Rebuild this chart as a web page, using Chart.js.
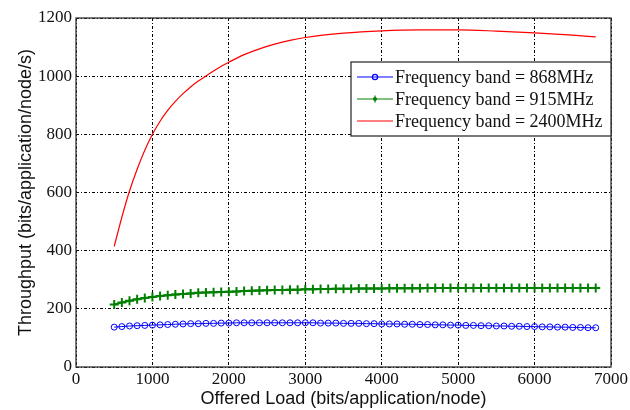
<!DOCTYPE html>
<html>
<head>
<meta charset="utf-8">
<script src="https://cdn.jsdelivr.net/npm/chart.js@4"></script>
<style>
  html, body { margin: 0; padding: 0; background: #fff; }
  #wrap { width: 630px; height: 410px; }
</style>
</head>
<body>
<div id="wrap"><canvas id="grafica"></canvas></div>
<script>
// ——— Datos ——————————————————————————————————————
const loadStep = [500,600,700,800,900,1000,1100,1200,1300,1400,1500,1600,1700,1800,1900,
  2000,2100,2200,2300,2400,2500,2600,2700,2800,2900,3000,3100,3200,3300,3400,3500,3600,3700,3800,3900,
  4000,4100,4200,4300,4400,4500,4600,4700,4800,4900,5000,5100,5200,5300,5400,5500,5600,5700,5800,5900,
  6000,6100,6200,6300,6400,6500,6600,6700,6800];

const band868 = [137,139,141,142,143,
  144,145,146,147,148,149,149,150,150,151,
  151,152,152,152,152,152,152,152,152,152,
  152,152,151,151,151,150,150,150,149,149,
  148,148,148,147,147,146,146,145,145,144,
  144,143,143,142,142,141,141,140,140,139,
  139,138,138,137,137,136,136,135,135];

const band915 = [215,222,228,233,237,
  241,244,247,249,251,253,255,256,257,258,
  259,260,261,262,263,264,265,265,266,266,
  267,267,268,268,269,269,269,270,270,270,
  270,271,271,271,271,271,272,272,272,272,
  272,272,272,272,272,272,272,272,272,272,
  272,272,272,272,272,272,272,272,272];

const loadRed = [500,600,700,800,900,1000,1100,1200,1300,1400,1500,1600,1700,1800,1900,
  2000,2200,2400,2600,2800,3000,3500,4000,4500,5000,5500,6000,6500,6800];
const band2400 = [415,515,605,680,745,800,845,882,913,940,963,983,1001,1018,1034,
  1048,1074,1094,1110,1123,1133,1148,1156,1159,1159,1155,1149,1141,1135];

const etiquetas = ["Frequency band = 868MHz", "Frequency band = 915MHz", "Frequency band = 2400MHz"];
const xTicks = [0,1000,2000,3000,4000,5000,6000,7000];
const yTicks = [0,200,400,600,800,1000,1200];

const SERIF = "'Liberation Serif', 'DejaVu Serif', serif";
const SANS = "'Liberation Sans', Arial, sans-serif";

// ——— Helpers ——————————————————————————————————————
function pares(xs, ys) {
  return xs.map((x, i) => ({ x: x, y: ys[i] }));
}

// marco + leyenda estilo MATLAB
const marcoPlugin = {
  id: "marco",
  afterDatasetsDraw(chart) {
    const { ctx, chartArea: a } = chart;
    ctx.save();
    ctx.strokeStyle = "#333";
    ctx.lineWidth = 1.3;
    ctx.strokeRect(a.left, a.top, a.right - a.left, a.bottom - a.top);

    // leyenda
    const bx = 351, by = 62, bw = a.right - 351, bh = 74;
    ctx.fillStyle = "#fff";
    ctx.fillRect(bx, by, bw, bh);
    ctx.strokeRect(bx, by, bw, bh);
    ctx.font = "18px " + SERIF;
    ctx.textBaseline = "middle";
    chart.data.datasets.forEach((ds, i) => {
      const y = by + 15 + i * 22;
      ctx.strokeStyle = ds.borderColor;
      ctx.lineWidth = 1.2;
      ctx.beginPath();
      ctx.moveTo(bx + 6, y);
      ctx.lineTo(bx + 42, y);
      ctx.stroke();
      if (i === 0) {
        ctx.beginPath();
        ctx.arc(bx + 24, y, 2.6, 0, Math.PI * 2);
        ctx.stroke();
      } else if (i === 1) {
        ctx.fillStyle = ds.borderColor;
        ctx.beginPath();
        ctx.arc(bx + 24, y, 2, 0, Math.PI * 2);
        ctx.fill();
        ctx.beginPath();
        ctx.moveTo(bx + 24, y - 3.5);
        ctx.lineTo(bx + 24, y + 3.5);
        ctx.stroke();
      }
      ctx.fillStyle = "#111";
      ctx.fillText(ds.label, bx + 44, y + 1);
    });
    ctx.restore();
  },
};

// ——— Principal ——————————————————————————————————————
const ctx = document.getElementById("grafica").getContext("2d");
new Chart(ctx, {
  type: "line",
  data: {
    datasets: [
      {
        label: etiquetas[0],
        data: pares(loadStep, band868),
        borderColor: "#0000ff",
        borderWidth: 1,
        pointStyle: "circle",
        pointRadius: 3,
        pointBorderWidth: 1,
        pointBackgroundColor: "rgba(0,0,0,0)",
        pointBorderColor: "#0000ff",
      },
      {
        label: etiquetas[1],
        data: pares(loadStep, band915),
        borderColor: "#008000",
        borderWidth: 2,
        pointStyle: "cross",
        pointRadius: 4.5,
        pointBorderWidth: 2,
        pointBorderColor: "#008000",
        pointBackgroundColor: "#008000",
      },
      {
        label: etiquetas[2],
        data: pares(loadRed, band2400),
        borderColor: "#ff0000",
        borderWidth: 1.2,
        pointRadius: 0,
        cubicInterpolationMode: "monotone",
      },
    ],
  },
  options: {
    responsive: true,
    maintainAspectRatio: false,
    animation: false,
    layout: { padding: { top: 18, right: 18, left: 0, bottom: 0 } },
    plugins: { legend: { display: false }, tooltip: { enabled: false } },
    scales: {
      x: {
        type: "linear",
        min: 0,
        max: 7000,
        afterBuildTicks: (s) => { s.ticks = xTicks.map((v) => ({ value: v })); },
        afterFit: (s) => { s.height = 43; },
        grid: { color: "#000", lineWidth: 1, drawTicks: false },
        border: { display: false, dash: [3, 2, 1, 2] },
        ticks: { color: "#111", font: { family: SERIF, size: 17 }, padding: 2, maxRotation: 0, callback: (v) => String(v) },
        title: {
          display: true,
          text: "Offered Load (bits/application/node)",
          color: "#111",
          font: { family: SANS, size: 18 },
          padding: { top: 0, bottom: 0 },
        },
      },
      y: {
        min: 0,
        max: 1200,
        afterBuildTicks: (s) => { s.ticks = yTicks.map((v) => ({ value: v })); },
        afterFit: (s) => { s.width = 76; },
        grid: { color: "#000", lineWidth: 1, drawTicks: false },
        border: { display: false, dash: [3, 2, 1, 2] },
        ticks: { color: "#111", font: { family: SERIF, size: 17 }, padding: 4, callback: (v) => String(v) },
        title: {
          display: true,
          text: "Throughput (bits/application/node/s)",
          color: "#111",
          font: { family: SANS, size: 18 },
          padding: { top: 15, bottom: 0 },
        },
      },
    },
  },
  plugins: [marcoPlugin],
});
</script>
</body>
</html>
